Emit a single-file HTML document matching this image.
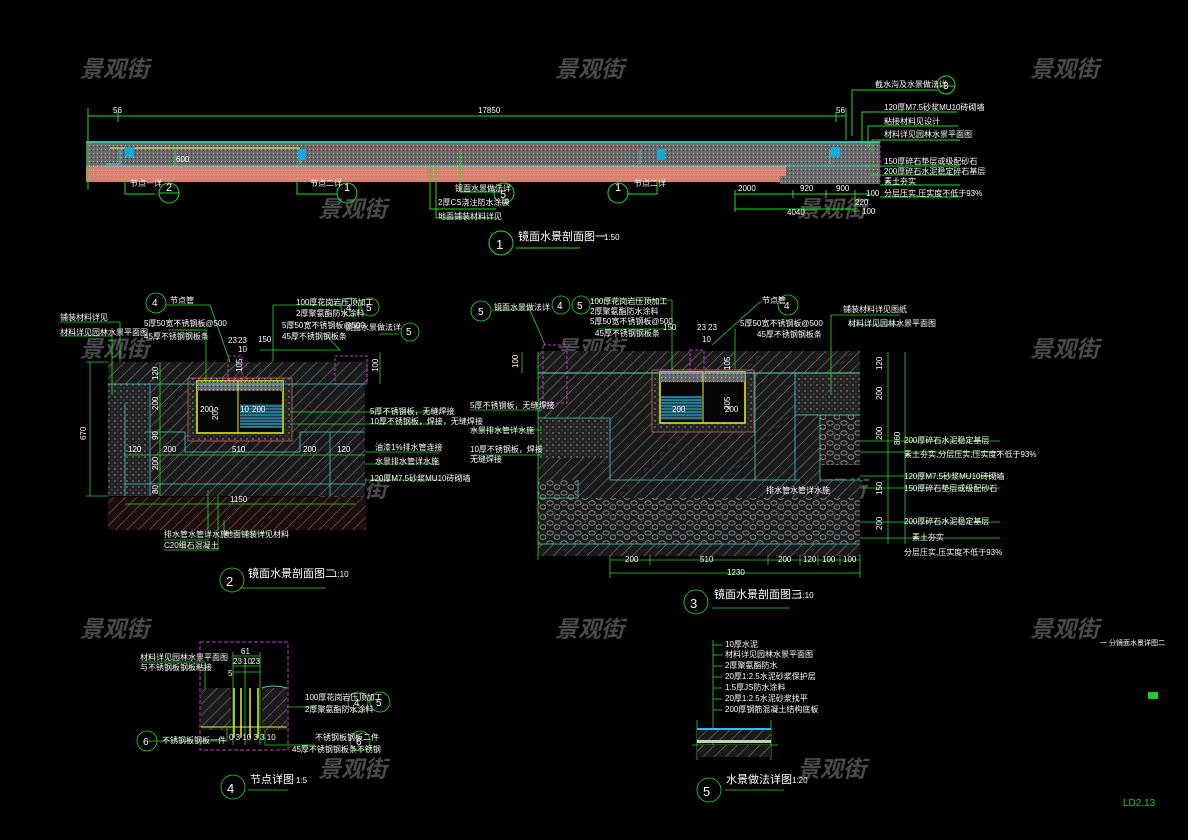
<!DOCTYPE html>
<html><head><meta charset="utf-8"><style>
html,body{margin:0;padding:0;background:#000;width:1188px;height:840px;overflow:hidden}
svg{display:block}
text{font-family:"Liberation Sans","Noto Sans CJK SC",sans-serif}
.w{fill:#fff;font-size:8px}
.d{fill:#fff;font-size:8px}
.t{fill:#fff;font-size:13px}
.wm{fill:#4a4a4a;font-size:23px;font-weight:bold;font-style:italic;font-family:"Noto Sans CJK SC",sans-serif}
</style></head><body>
<svg width="1188" height="840" viewBox="0 0 1188 840" xmlns="http://www.w3.org/2000/svg">
<defs>
<pattern id="h" width="8" height="8" patternUnits="userSpaceOnUse" patternTransform="rotate(45)"><rect width="8" height="8" fill="#1a1a1a"/><line x1="0" y1="0" x2="0" y2="8" stroke="#8a8a8a" stroke-width="1"/></pattern>
<pattern id="hr" width="8" height="8" patternUnits="userSpaceOnUse" patternTransform="rotate(45)"><rect width="8" height="8" fill="#1a0e0e"/><line x1="0" y1="0" x2="0" y2="8" stroke="#c06060" stroke-width="1"/></pattern>
<pattern id="dt" width="6" height="6" patternUnits="userSpaceOnUse"><rect width="6" height="6" fill="#222"/><circle cx="1" cy="1" r=".7" fill="#aaa"/><circle cx="4" cy="4" r=".6" fill="#777"/></pattern>
<pattern id="pb" width="14" height="10" patternUnits="userSpaceOnUse"><rect width="14" height="10" fill="#1a1a1a"/><ellipse cx="4" cy="3" rx="3.2" ry="2.2" fill="none" stroke="#999" stroke-width=".8"/><ellipse cx="11" cy="7" rx="3" ry="2.3" fill="none" stroke="#999" stroke-width=".8"/></pattern>
<pattern id="gs" width="4" height="4" patternUnits="userSpaceOnUse"><rect width="4" height="4" fill="#6a6a6a"/><rect x="1" y="1" width="1" height="1" fill="#bbb"/><rect x="3" y="2" width="1" height="1" fill="#333"/></pattern>
<pattern id="pk" width="4" height="4" patternUnits="userSpaceOnUse"><rect width="4" height="4" fill="#d88070"/><rect x="1" y="2" width="1" height="1" fill="#f0b0a0"/></pattern>
<pattern id="wt" width="6" height="3" patternUnits="userSpaceOnUse"><rect width="6" height="3" fill="#234"/><line x1="0" y1="1" x2="6" y2="1" stroke="#2bd" stroke-width="1"/></pattern>
</defs>

<!-- watermarks -->
<g class="wm">
<text x="80" y="77">景观街</text><text x="555" y="77">景观街</text><text x="1030" y="77">景观街</text>
<text x="318" y="217">景观街</text><text x="797" y="217">景观街</text>
<text x="80" y="357">景观街</text><text x="555" y="357">景观街</text><text x="1030" y="357">景观街</text>
<text x="318" y="497">景观街</text><text x="797" y="497">景观街</text>
<text x="80" y="637">景观街</text><text x="555" y="637">景观街</text><text x="1030" y="637">景观街</text>
<text x="318" y="777">景观街</text><text x="797" y="777">景观街</text>
</g>

<!-- SECTION 1 -->
<g stroke="#2d2" stroke-width="1" fill="none">
<line x1="88" y1="116" x2="846" y2="116"/><line x1="88" y1="108" x2="88" y2="140"/><line x1="846" y1="108" x2="846" y2="140"/>
<line x1="118" y1="112" x2="118" y2="122"/><line x1="836" y1="112" x2="836" y2="122"/>
</g>
<text class="d" x="113" y="113">56</text><text class="d" x="478" y="113">17850</text><text class="d" x="836" y="113">56</text>
<rect x="86" y="142" width="794" height="24" fill="url(#gs)"/>
<rect x="86" y="166" width="700" height="16" fill="url(#pk)"/>
<rect x="786" y="166" width="94" height="18" fill="url(#gs)"/>
<rect x="780" y="176" width="100" height="8" fill="url(#gs)"/>
<line x1="86" y1="142" x2="880" y2="142" stroke="#4dd" stroke-width="1.5"/>
<line x1="110" y1="148" x2="300" y2="148" stroke="#dd4" stroke-width="1.2"/>
<line x1="310" y1="148" x2="640" y2="148" stroke="#e33" stroke-width="1"/>
<g stroke="#4cc" fill="none" stroke-width="1">
<path d="M100 166 H870"/><path d="M120 150 v14 h-14"/><path d="M300 150 v14"/><path d="M640 150 v14"/><path d="M830 150 v14"/>
</g>
<g fill="#1ad">
<rect x="125" y="147" width="9" height="10"/><rect x="298" y="149" width="8" height="11"/><rect x="657" y="149" width="8" height="11"/><rect x="831" y="147" width="9" height="10"/>
</g>
<line x1="88" y1="138" x2="88" y2="190" stroke="#2d2"/>
<line x1="175" y1="150" x2="175" y2="166" stroke="#2d2"/><text class="d" x="176" y="162" font-size="6">600</text>
<!-- labels below sec1 -->
<g stroke="#2d2" fill="none">
<path d="M125 180 v14 h30"/><circle cx="169" cy="193" r="10"/><line x1="159" y1="193" x2="179" y2="193"/>
<path d="M297 180 v14 h40"/><circle cx="347" cy="193" r="10"/>
<path d="M657 180 v14 h-30"/><circle cx="618" cy="193" r="10"/>
<path d="M460 150 v42 h40"/><circle cx="504" cy="193" r="10"/>
<path d="M436 166 v52 h60"/><path d="M430 166 v43 h66"/>
<circle cx="501" cy="243" r="12"/><line x1="516" y1="248" x2="580" y2="248"/>
<line x1="735" y1="194" x2="870" y2="194"/><line x1="735" y1="209" x2="855" y2="209"/>
<line x1="735" y1="190" x2="735" y2="212"/><line x1="793" y1="190" x2="793" y2="198"/><line x1="826" y1="190" x2="826" y2="198"/><line x1="855" y1="190" x2="855" y2="212"/>
</g>
<g class="d"><text x="130" y="186">节点一详</text><text x="166" y="191" font-size="11">2</text>
<text x="310" y="186">节点二详</text><text x="344" y="191" font-size="11">1</text>
<text x="615" y="191" font-size="11">1</text><text x="634" y="186">节点二详</text>
<text x="455" y="191">镜面水景做法详</text><text x="500" y="198" font-size="11">5</text>
<text x="438" y="205">2厚CS浇注防水涂膜</text><text x="438" y="219">地面铺装材料详见</text>
<text x="738" y="191">2000</text><text x="800" y="191">920</text><text x="836" y="191">900</text><text x="866" y="196">100</text>
<text x="855" y="205">220</text><text x="787" y="215">4040</text><text x="862" y="214">100</text>
</g>
<text x="496" y="249" class="t" font-size="15">1</text>
<text x="518" y="240" fill="#fff" font-size="11">镜面水景剖面图一</text><text x="604" y="240" fill="#fff" font-size="8">1:50</text>
<!-- right callouts sec1 -->
<g stroke="#2d2" fill="none">
<path d="M852 136 V90 h85"/><circle cx="946" cy="85" r="9"/><line x1="937" y1="86" x2="955" y2="86"/>
<path d="M862 144 V112 h95"/><path d="M868 148 V126 h90"/><path d="M872 152 V140 h88"/>
<line x1="870" y1="166" x2="960" y2="166"/><line x1="870" y1="175" x2="960" y2="175"/><line x1="880" y1="185" x2="960" y2="185"/><line x1="880" y1="197" x2="960" y2="197"/>
</g>
<line x1="880" y1="140" x2="880" y2="182" stroke="#c3c" stroke-dasharray="3 2"/>
<g class="d" font-size="7"><text x="875" y="87">截水沟及水景做法详</text><text x="943" y="89" font-size="10">3</text>
<text x="884" y="110">120厚M7.5砂浆MU10砖砌墙</text><text x="884" y="124">粘接材料见设计</text><text x="884" y="137">材料详见园林水景平面图</text>
<text x="884" y="164">150厚碎石垫层或级配砂石</text><text x="884" y="174">200厚碎石水泥稳定碎石基层</text><text x="884" y="184">素土夯实</text><text x="884" y="196">分层压实,压实度不低于93%</text></g>

<!-- SECTION 2 -->
<rect x="108" y="362" width="260" height="22" fill="url(#h)"/>
<rect x="108" y="384" width="42" height="112" fill="url(#dt)"/>
<rect x="150" y="384" width="215" height="112" fill="url(#h)"/>
<rect x="108" y="497" width="258" height="33" fill="url(#hr)"/>
<rect x="188" y="378" width="104" height="63" fill="url(#dt)" stroke="#c66" stroke-width=".8"/>
<rect x="197" y="381" width="86" height="52" fill="#050505" stroke="#ee2" stroke-width="1.5"/>
<rect x="197" y="381" width="86" height="10" fill="url(#gs)"/>
<line x1="238" y1="381" x2="238" y2="433" stroke="#ee2"/>
<rect x="240" y="404" width="42" height="24" fill="url(#wt)"/>
<rect x="335" y="356" width="32" height="28" fill="none" stroke="#c3c" stroke-dasharray="3 2"/>
<rect x="228" y="356" width="14" height="24" fill="none" stroke="#c3c" stroke-dasharray="3 2"/>
<g stroke="#4cc" fill="none" stroke-width=".8">
<path d="M108 384 H365"/><path d="M150 384 V496"/><path d="M125 403 V496"/><path d="M145 432 H185 V452 H300 V432 H365"/><path d="M125 484 H365"/><path d="M330 432 V496"/>
</g>
<g stroke="#2d2" fill="none" stroke-width=".8">
<line x1="90" y1="362" x2="90" y2="496"/><line x1="86" y1="362" x2="108" y2="362"/><line x1="86" y1="496" x2="108" y2="496"/>
<line x1="124" y1="455" x2="365" y2="455"/><line x1="125" y1="504" x2="355" y2="504"/>
<line x1="160" y1="362" x2="160" y2="496"/>
<line x1="380" y1="352" x2="380" y2="384"/>
<path d="M60 322 H120 V362"/><path d="M60 336 H112 V395"/>
<path d="M165 305 H210 L230 362"/><circle cx="156" cy="303" r="10"/>
<path d="M180 330 H206 V380"/><path d="M200 330 H168"/>
<path d="M273 305 H340"/><path d="M273 305 V362"/><circle cx="350" cy="307" r="9"/><circle cx="370" cy="307" r="9"/>
<path d="M325 334 L340 350 H260"/><path d="M380 334 H398"/><circle cx="410" cy="332" r="9"/>
<line x1="290" y1="412" x2="440" y2="412"/><line x1="290" y1="424" x2="440" y2="424"/>
<line x1="365" y1="452" x2="440" y2="452"/><line x1="365" y1="464" x2="440" y2="464"/><line x1="365" y1="480" x2="440" y2="480"/>
<path d="M208 490 V540 H164"/><path d="M218 496 V550 H164"/><path d="M224 520 V533 H270"/>
<line x1="240" y1="588" x2="326" y2="588"/><circle cx="232" cy="580" r="12"/>
</g>
<g class="d" font-size="7">
<text x="60" y="320">铺装材料详见</text><text x="60" y="335">材料详见园林水景平面图</text>
<text x="152" y="306" font-size="10">4</text><text x="170" y="303">节点管</text>
<text x="144" y="326">5厚50宽不锈钢板@500</text><text x="144" y="339">45厚不锈钢钢板条</text>
<text x="296" y="305">100厚花岗岩压顶加工</text><text x="296" y="316">2厚聚氨酯防水涂料</text>
<text x="282" y="328">5厚50宽不锈钢板@500</text><text x="282" y="339">45厚不锈钢钢板条</text>
<text x="346" y="311" font-size="10">4</text><text x="366" y="311" font-size="10">5</text><text x="406" y="335" font-size="10">5</text>
<text x="345" y="330">镜面水景做法详</text>
<text x="228" y="343">23</text><text x="238" y="343">23</text><text x="238" y="352">10</text><text x="258" y="342">150</text>
<text x="370" y="414">5厚不锈钢板，无缝焊接</text><text x="370" y="424">10厚不锈钢板，焊接，无缝焊接</text>
<text x="375" y="450">油漆1%排水管连接</text><text x="375" y="464">水景排水管详水施</text><text x="370" y="481">120厚M7.5砂浆MU10砖砌墙</text>
<text x="164" y="537">排水管水管详水施</text><text x="164" y="548">C20细石混凝土</text><text x="225" y="537">地面铺装详见材料</text>
<text x="200" y="412">200</text><text x="252" y="412">200</text><text x="240" y="412">10</text>
<text x="128" y="452">120</text><text x="163" y="452">200</text><text x="232" y="452">510</text><text x="303" y="452">200</text><text x="337" y="452">120</text>
<text x="230" y="502">1150</text>
</g>
<g class="d" font-size="7">
<text transform="translate(86,440) rotate(-90)">670</text><text transform="translate(158,380) rotate(-90)">120</text><text transform="translate(158,410) rotate(-90)">200</text>
<text transform="translate(158,440) rotate(-90)">90</text><text transform="translate(158,470) rotate(-90)">200</text><text transform="translate(158,494) rotate(-90)">80</text>
<text transform="translate(242,372) rotate(-90)">105</text><text transform="translate(218,420) rotate(-90)">205</text><text transform="translate(378,372) rotate(-90)">100</text>
</g>
<text x="226" y="586" class="t" font-size="15">2</text>
<text x="248" y="577" fill="#fff" font-size="11">镜面水景剖面图二</text><text x="333" y="577" fill="#fff" font-size="8">1:10</text>

<!-- SECTION 3 -->
<rect x="538" y="351" width="322" height="22" fill="url(#h)"/>
<rect x="538" y="373" width="120" height="45" fill="url(#h)"/>
<rect x="538" y="418" width="72" height="40" fill="url(#dt)"/>
<rect x="610" y="418" width="190" height="62" fill="url(#h)"/>
<rect x="538" y="458" width="72" height="22" fill="url(#h)"/>
<rect x="755" y="373" width="40" height="107" fill="url(#h)"/>
<rect x="795" y="373" width="65" height="42" fill="url(#dt)"/>
<rect x="795" y="415" width="25" height="65" fill="url(#h)"/>
<rect x="820" y="415" width="40" height="50" fill="url(#pb)"/>
<rect x="538" y="480" width="40" height="18" fill="url(#pb)"/>
<rect x="578" y="480" width="282" height="19" fill="url(#h)"/>
<rect x="538" y="498" width="322" height="46" fill="url(#pb)"/>
<rect x="538" y="544" width="322" height="12" fill="url(#h)"/>
<rect x="652" y="370" width="102" height="62" fill="url(#dt)" stroke="#c66" stroke-width=".8"/>
<rect x="660" y="372" width="85" height="51" fill="#050505" stroke="#ee2" stroke-width="1.5"/>
<rect x="660" y="372" width="85" height="10" fill="url(#gs)"/>
<line x1="703" y1="372" x2="703" y2="423" stroke="#ee2"/>
<rect x="661" y="396" width="41" height="24" fill="url(#wt)"/>
<line x1="538" y1="373" x2="860" y2="373" stroke="#ee2" stroke-width="1"/>
<rect x="543" y="345" width="24" height="58" fill="none" stroke="#c3c" stroke-dasharray="3 2"/>
<rect x="690" y="350" width="14" height="24" fill="none" stroke="#c3c" stroke-dasharray="3 2"/>
<g stroke="#4cc" fill="none" stroke-width=".8">
<path d="M538 373 H860"/><path d="M538 418 H610 V480 H800"/><path d="M755 373 V480"/><path d="M795 373 V480"/><path d="M820 415 V480 H860"/><path d="M538 480 V498 H578 V480"/><path d="M538 544 H860"/><path d="M795 415 H860"/>
</g>
<g stroke="#2d2" fill="none" stroke-width=".8">
<line x1="538" y1="352" x2="538" y2="560"/>
<line x1="610" y1="560" x2="860" y2="560"/><line x1="610" y1="573" x2="860" y2="573"/>
<line x1="610" y1="555" x2="610" y2="578"/><line x1="650" y1="555" x2="650" y2="565"/><line x1="768" y1="555" x2="768" y2="565"/><line x1="800" y1="555" x2="800" y2="565"/><line x1="818" y1="555" x2="818" y2="565"/><line x1="840" y1="555" x2="840" y2="565"/><line x1="860" y1="555" x2="860" y2="578"/>
<line x1="888" y1="352" x2="888" y2="544"/><line x1="905" y1="352" x2="905" y2="544"/>
<line x1="522" y1="352" x2="522" y2="373"/>
<path d="M492 310 H530 L545 345"/><circle cx="481" cy="311" r="10"/>
<circle cx="561" cy="305" r="9"/><circle cx="581" cy="305" r="9"/>
<path d="M590 300 H672 V370"/><path d="M598 329 H665"/>
<path d="M762 302 H760 L712 345"/><circle cx="788" cy="305" r="10"/>
<path d="M735 329 V370"/>
<path d="M831 315 H900"/><path d="M831 315 V395"/><path d="M848 325 H900"/>
<path d="M470 410 H542"/><path d="M470 430 H542"/><path d="M470 455 H542"/>
<line x1="860" y1="441" x2="1000" y2="441"/><line x1="860" y1="452" x2="1000" y2="452"/><line x1="860" y1="476" x2="1000" y2="476"/><line x1="860" y1="488" x2="1000" y2="488"/><line x1="860" y1="522" x2="1000" y2="522"/><line x1="860" y1="538" x2="1000" y2="538"/>
<circle cx="696" cy="602" r="12"/><line x1="712" y1="608" x2="790" y2="608"/>
</g>
<g class="d" font-size="7">
<text x="478" y="315" font-size="10">5</text><text x="494" y="310">镜面水景做法详</text>
<text x="557" y="309" font-size="10">4</text><text x="577" y="309" font-size="10">5</text>
<text x="590" y="304">100厚花岗岩压顶加工</text><text x="590" y="314">2厚聚氨酯防水涂料</text><text x="590" y="324">5厚50宽不锈钢板@500</text><text x="595" y="336">45厚不锈钢钢板条</text>
<text x="762" y="303">节点管</text><text x="784" y="309" font-size="10">4</text>
<text x="740" y="326">5厚50宽不锈钢板@500</text><text x="757" y="337">45厚不锈钢钢板条</text>
<text x="843" y="312">铺装材料详见图纸</text><text x="848" y="326">材料详见园林水景平面图</text>
<text x="470" y="408">5厚不锈钢板，无缝焊接</text><text x="470" y="433">水景排水管详水施</text><text x="470" y="452">10厚不锈钢板，焊接</text><text x="470" y="462">无缝焊接</text>
<text x="766" y="493">排水管水管详水施</text>
<text x="904" y="443">200厚碎石水泥稳定基层</text><text x="904" y="457">素土夯实,分层压实,压实度不低于93%</text><text x="904" y="479">120厚M7.5砂浆MU10砖砌墙</text><text x="904" y="491">150厚碎石垫层或级配砂石</text><text x="904" y="524">200厚碎石水泥稳定基层</text><text x="912" y="540">素土夯实</text><text x="904" y="555">分层压实,压实度不低于93%</text>
<text x="625" y="562">200</text><text x="700" y="562">510</text><text x="778" y="562">200</text><text x="803" y="562">120</text><text x="822" y="562">100</text><text x="843" y="562">100</text>
<text x="727" y="575">1230</text>
<text x="663" y="330">150</text><text x="697" y="330">23</text><text x="708" y="330">23</text><text x="702" y="342">10</text>
<text x="672" y="412">200</text><text x="725" y="412">200</text>
</g>
<g class="d" font-size="7">
<text transform="translate(518,368) rotate(-90)">100</text><text transform="translate(882,370) rotate(-90)">120</text><text transform="translate(882,400) rotate(-90)">200</text>
<text transform="translate(882,440) rotate(-90)">200</text><text transform="translate(900,445) rotate(-90)">860</text><text transform="translate(882,495) rotate(-90)">150</text><text transform="translate(882,530) rotate(-90)">200</text>
<text transform="translate(730,370) rotate(-90)">105</text><text transform="translate(730,410) rotate(-90)">205</text>
</g>
<text x="690" y="608" class="t" font-size="15">3</text>
<text x="714" y="598" fill="#fff" font-size="11">镜面水景剖面图三</text><text x="798" y="598" fill="#fff" font-size="8">1:10</text>

<!-- SECTION 4 -->
<rect x="200" y="642" width="88" height="108" fill="none" stroke="#c3c" stroke-dasharray="4 2"/>
<rect x="201" y="688" width="30" height="42" fill="url(#h)"/>
<rect x="262" y="688" width="25" height="42" fill="url(#h)"/>
<path d="M262 688 Q272 684 287 688" stroke="#4cc" fill="none"/>
<g stroke="#ee2" stroke-width="1.5"><line x1="234" y1="688" x2="234" y2="738"/><line x1="241" y1="688" x2="241" y2="738"/><line x1="250" y1="688" x2="250" y2="738"/><line x1="258" y1="688" x2="258" y2="738"/></g>
<line x1="201" y1="727" x2="287" y2="727" stroke="#ee2"/>
<g stroke="#2d2" fill="none" stroke-width=".8">
<line x1="233" y1="656" x2="260" y2="656"/><line x1="233" y1="666" x2="260" y2="666"/><line x1="233" y1="672" x2="260" y2="672"/>
<line x1="233" y1="652" x2="233" y2="745"/><line x1="260" y1="652" x2="260" y2="745"/><line x1="245" y1="660" x2="245" y2="745"/>
<path d="M140 662 H205 V688"/><path d="M287 707 H315"/><circle cx="358" cy="702" r="10"/><circle cx="380" cy="702" r="10"/>
<path d="M145 741 H227 V728"/><circle cx="147" cy="741" r="10"/>
<path d="M265 730 V745 H315"/><circle cx="360" cy="741" r="10"/>
<circle cx="233" cy="787" r="12"/><line x1="248" y1="790" x2="288" y2="790"/>
</g>
<g class="d" font-size="7">
<text x="140" y="660">材料详见园林水景平面图</text><text x="140" y="670">与不锈钢板钢板粘接</text>
<text x="241" y="654">61</text><text x="233" y="664">23</text><text x="243" y="664">10</text><text x="251" y="664">23</text><text x="228" y="676">5</text>
<text x="305" y="700">100厚花岗岩压顶加工</text><text x="305" y="712">2厚聚氨酯防水涂料</text>
<text x="354" y="706" font-size="10">4</text><text x="376" y="706" font-size="10">5</text>
<text x="162" y="743">不锈钢板钢板一件</text><text x="143" y="745" font-size="10">6</text>
<text x="315" y="740">不锈钢板钢板二件</text><text x="356" y="745" font-size="10">6</text><text x="292" y="752">45厚不锈钢钢板条不锈钢</text>
<text x="229" y="740">0 3 10 3 3 10</text>
</g>
<text x="227" y="793" class="t" font-size="15">4</text>
<text x="250" y="783" fill="#fff" font-size="11">节点详图</text><text x="296" y="783" fill="#fff" font-size="8">1:5</text>

<!-- SECTION 5 -->
<g stroke="#2d2" fill="none" stroke-width=".8">
<line x1="713" y1="640" x2="713" y2="745"/>
<line x1="713" y1="645" x2="722" y2="645"/><line x1="713" y1="655" x2="722" y2="655"/><line x1="713" y1="666" x2="722" y2="666"/><line x1="713" y1="677" x2="722" y2="677"/><line x1="713" y1="688" x2="722" y2="688"/><line x1="713" y1="699" x2="722" y2="699"/><line x1="713" y1="710" x2="722" y2="710"/>
<line x1="692" y1="745" x2="778" y2="745"/><line x1="697" y1="720" x2="697" y2="760"/><line x1="771" y1="720" x2="771" y2="760"/>
<circle cx="709" cy="790" r="12"/><line x1="725" y1="790" x2="784" y2="790"/>
</g>
<rect x="697" y="728" width="74" height="2" fill="#3bf"/>
<rect x="697" y="730" width="74" height="10" fill="url(#h)"/>
<rect x="697" y="740" width="74" height="3" fill="#ccb"/>
<rect x="697" y="745" width="74" height="12" fill="url(#h)"/>
<g class="d" font-size="7">
<text x="725" y="647">10厚水泥</text><text x="725" y="657">材料详见园林水景平面图</text><text x="725" y="668">2厚聚氨酯防水</text>
<text x="725" y="679">20厚1:2.5水泥砂浆保护层</text><text x="725" y="690">1.5厚JS防水涂料</text><text x="725" y="701">20厚1:2.5水泥砂浆找平</text><text x="725" y="712">200厚钢筋混凝土结构底板</text>
</g>
<text x="703" y="796" class="t" font-size="15">5</text>
<text x="726" y="783" fill="#fff" font-size="11">水景做法详图</text><text x="792" y="783" fill="#fff" font-size="8">1:20</text>

<!-- corner -->
<text x="1100" y="645" fill="#fff" font-size="7">一 分镜面水景详图二</text>
<rect x="1148" y="692" width="10" height="7" fill="#2c2"/>
<text x="1123" y="806" fill="#2c2" font-size="10">LD2.13</text>
</svg>
</body></html>
